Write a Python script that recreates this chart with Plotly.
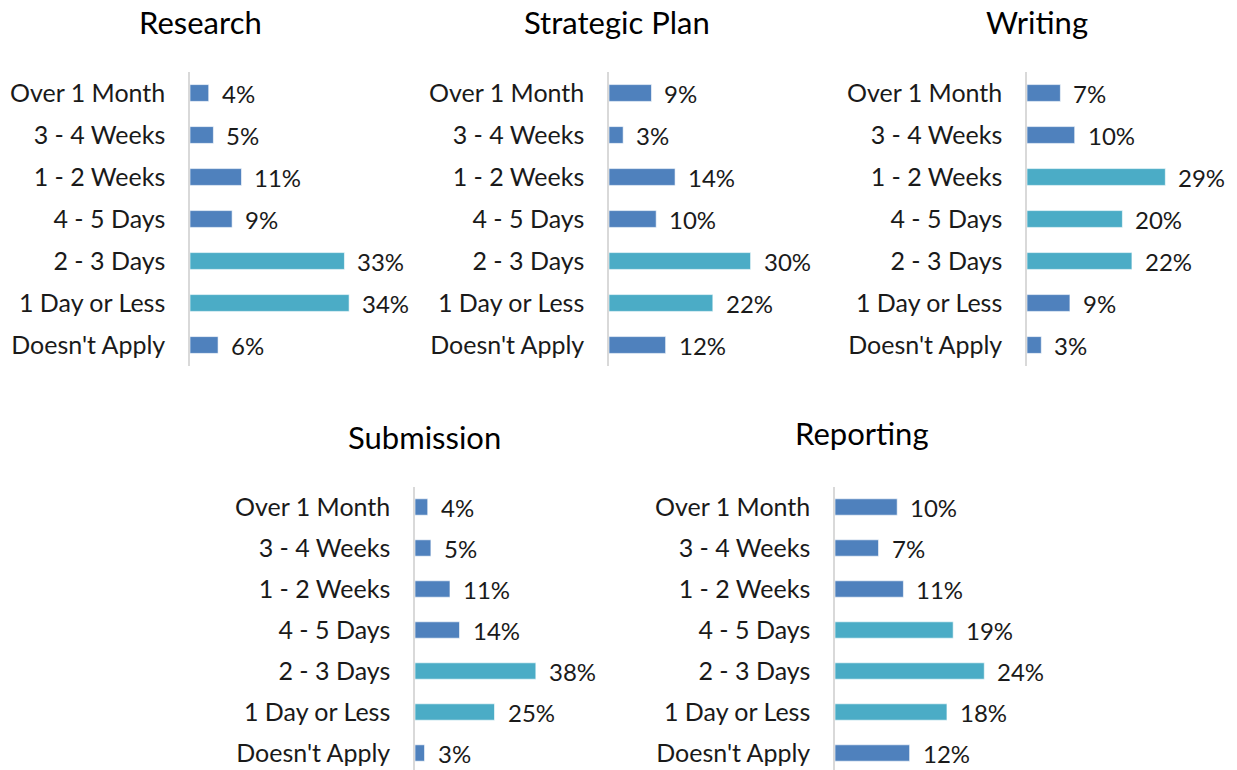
import plotly.graph_objects as go

W, H = 1237, 770

categories = ["Over 1 Month", "3 - 4 Weeks", "1 - 2 Weeks", "4 - 5 Days",
              "2 - 3 Days", "1 Day or Less", "Doesn't Apply"]

titles = ["Research", "Strategic Plan", "Writing", "Submission", "Reporting"]

research = [4, 5, 11, 9, 33, 34, 6]
strategic_plan = [9, 3, 14, 10, 30, 22, 12]
writing = [7, 10, 29, 20, 22, 9, 3]
submission = [4, 5, 11, 14, 38, 25, 3]
reporting = [10, 7, 11, 19, 24, 18, 12]

# 1 = highlighted (teal) bar, 0 = regular (blue) bar
research_hl = [0, 0, 0, 0, 1, 1, 0]
strategic_plan_hl = [0, 0, 0, 0, 1, 1, 0]
writing_hl = [0, 0, 1, 1, 1, 0, 0]
submission_hl = [0, 0, 0, 0, 1, 1, 0]
reporting_hl = [0, 0, 0, 1, 1, 1, 0]

series = [research, strategic_plan, writing, submission, reporting]
highlights = [research_hl, strategic_plan_hl, writing_hl, submission_hl, reporting_hl]

BLUE = "#4F81BD"
TEAL = "#4BACC6"
FONT = "Lato"

# layout in page pixels:
# (x0, x1, px_per_unit, first_row_center, last_row_center, row_spacing, title_x, title_y)
panels = [
    (190, 400, 4.68, 93, 345, 42, 200, 22),
    (609, 815, 4.72, 93, 345, 42, 617, 22),
    (1027, 1232, 4.77, 93, 345, 42, 1037, 22),
    (415, 615, 3.18, 507, 753, 41, 424, 437),
    (835, 1040, 6.22, 507, 753, 41, 862, 433),
]

fig = go.Figure()
annotations = []
for i, (vals, hl, title, p) in enumerate(zip(series, highlights, titles, panels)):
    x0, x1, ppu, yc0, yc6, sp, tx, ty = p
    n = "" if i == 0 else str(i + 1)
    ytop = yc0 - sp / 2
    ybot = min(yc6 + sp / 2, H)
    yrange_bottom = (ybot - yc0) / sp
    fig.add_trace(go.Bar(
        x=vals, y=categories, orientation="h",
        marker=dict(color=[TEAL if h else BLUE for h in hl],
                    line=dict(color="rgba(255,255,255,0.6)", width=1)),
        width=0.4,
        xaxis="x" + n, yaxis="y" + n,
        hoverinfo="x+y", showlegend=False,
    ))
    xmax = (x1 - x0) / ppu
    fig.layout["xaxis" + n] = dict(
        domain=[x0 / W, x1 / W], range=[0, xmax], anchor="y" + n,
        showgrid=False, zeroline=False, showticklabels=False, showline=False,
        fixedrange=True,
    )
    fig.layout["yaxis" + n] = dict(
        domain=[1 - ybot / H, 1 - ytop / H], anchor="x" + n,
        categoryorder="array", categoryarray=categories,
        range=[yrange_bottom, -0.5],
        showgrid=False, zeroline=False,
        showline=True, linecolor="#D9D9D9", linewidth=1.5,
        ticks="", ticklabelstandoff=18,
        tickfont=dict(family=FONT, size=25, color="#1a1a1a"),
        fixedrange=True,
    )
    for c, v in zip(categories, vals):
        annotations.append(dict(
            x=v, y=c, xref="x" + n, yref="y" + n,
            text=f"{v}%", showarrow=False, xanchor="left", yanchor="middle",
            xshift=11, font=dict(family=FONT, size=24, color="#1a1a1a"),
        ))
    annotations.append(dict(
        x=tx / W, y=1 - ty / H, xref="paper", yref="paper",
        text=title, showarrow=False, xanchor="center", yanchor="middle",
        font=dict(family=FONT, size=31, color="#000000"),
    ))

fig.update_layout(
    width=W, height=H,
    margin=dict(l=0, r=0, t=0, b=0),
    paper_bgcolor="white", plot_bgcolor="white",
    annotations=annotations,
    bargap=0.6,
)

html = fig.to_html(include_plotlyjs=True, full_html=True,
                   config={"displayModeBar": False})
html = html.replace("<head>", "<head><style>html,body{margin:0;padding:0;overflow:hidden;}</style>", 1)
with open("out.html", "w", encoding="utf-8") as f:
    f.write(html)
